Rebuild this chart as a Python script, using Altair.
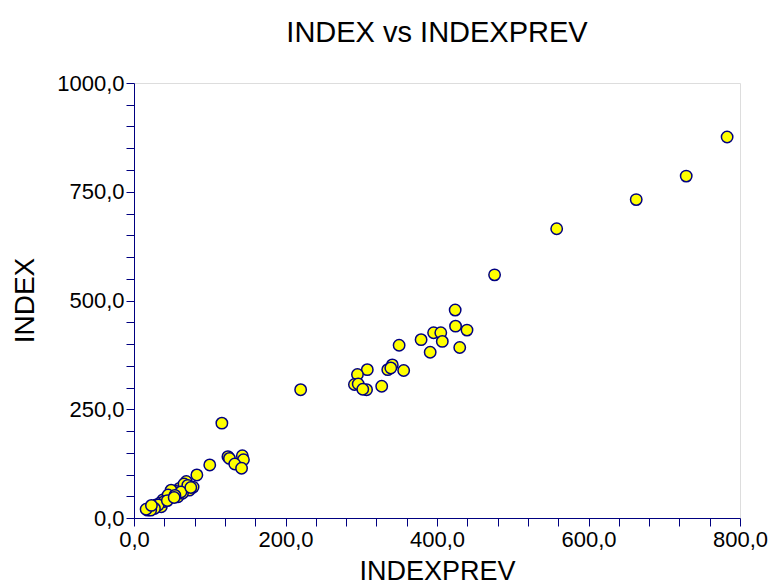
import altair as alt
import pandas as pd

# INDEXPREV (x) and INDEX (y) values
indexprev = [
    783, 729, 663, 558, 476,
    424, 424.5, 439.6, 430, 379, 395.5, 405, 407, 391, 350, 341, 335, 356, 339,
    308, 295, 291, 296, 307, 302, 327, 220,
    116, 100, 83, 124, 126, 143, 144.5, 133, 142,
    69, 73, 78, 60, 56, 51, 47, 42.5, 38, 34, 29, 25, 20, 18,
    49, 45, 36, 58, 64, 66, 71, 62, 54, 40, 32, 27, 22, 16, 23, 44, 53, 75,
]
index = [
    876, 786, 732, 665, 559,
    478, 441, 432, 392, 410, 426, 426, 406, 381, 397, 352, 341, 339, 345,
    341, 330, 307, 308, 295, 296, 303, 295,
    218, 122, 99, 141, 137, 143, 134, 124, 114.5,
    84, 64, 71, 68, 61, 57, 49, 45, 41.5, 34, 30, 26, 22, 18,
    64, 53, 26, 49, 57, 78, 75, 60, 52, 38, 30, 22, 18, 20, 29, 40, 47, 70,
]

x_ticks = list(range(0, 801, 40))
y_ticks = list(range(0, 1001, 50))

df = pd.DataFrame({"INDEXPREV": indexprev, "INDEX": index})

FONT = "Liberation Sans"
NAVY = "#000080"

chart = (
    alt.Chart(df)
    .mark_circle(size=130, color="#ffff00", opacity=1, stroke=NAVY, strokeWidth=1.5)
    .encode(
        x=alt.X(
            "INDEXPREV:Q",
            scale=alt.Scale(domain=[0, 800], nice=False, zero=True),
            axis=alt.Axis(
                values=x_ticks,
                labelExpr="datum.value % 200 == 0 ? replace(format(datum.value, '.1f'), '.', ',') : ''",
                labelOverlap=False,
                labelFlush=False,
                labelFontSize=22,
                labelPadding=3,
                labelColor="black",
                tickSize=8,
                tickColor=NAVY,
                domainColor=NAVY,
                grid=False,
                title="INDEXPREV",
                titleFontSize=27,
                titleFontWeight="normal",
                titleColor="black",
                titleBaseline="alphabetic",
                titleAlign="center",
                titleX=303,
                titleY=61,
            ),
        ),
        y=alt.Y(
            "INDEX:Q",
            scale=alt.Scale(domain=[0, 1000], nice=False, zero=True),
            axis=alt.Axis(
                values=y_ticks,
                labelExpr="datum.value % 250 == 0 ? replace(format(datum.value, '.1f'), '.', ',') : ''",
                labelOverlap=False,
                labelFlush=False,
                labelFontSize=22,
                labelPadding=2,
                labelColor="black",
                tickSize=8,
                tickColor=NAVY,
                domainColor=NAVY,
                grid=False,
                title="INDEX",
                titleFontSize=28,
                titleFontWeight="normal",
                titleColor="black",
                titleAngle=270,
                titleBaseline="alphabetic",
                titleAlign="center",
                titleX=-101,
                titleY=217,
            ),
        ),
    )
    .properties(
        width=606,
        height=435,
        autosize=alt.AutoSizeParams(type="none"),
        padding={"left": 134, "top": 83, "right": 33, "bottom": 66},
        title=alt.TitleParams(
            "INDEX vs INDEXPREV",
            fontSize=29,
            fontWeight="normal",
            font=FONT,
            color="black",
            anchor="middle",
            offset=29,
            dy=5,
        ),
    )
    .configure_axis(labelFont=FONT, titleFont=FONT)
    .configure_view(stroke=None)
    .configure(background="white")
)

chart.save("out.html", embed_options={"renderer": "svg", "actions": False})
